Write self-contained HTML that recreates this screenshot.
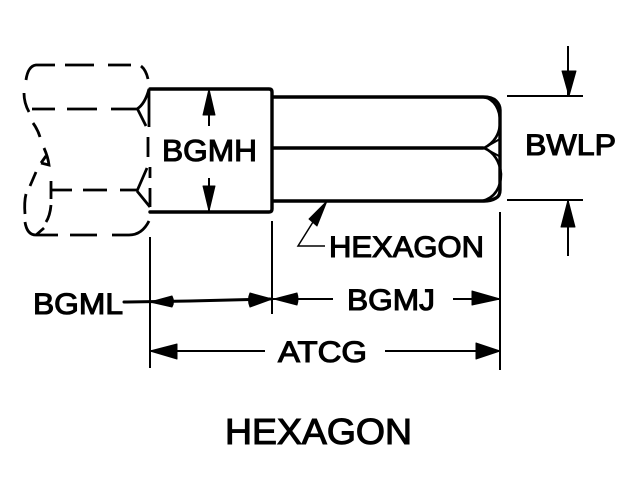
<!DOCTYPE html>
<html><head><meta charset="utf-8"><style>
html,body{margin:0;padding:0;background:#fff;width:634px;height:486px;overflow:hidden}
svg{display:block}
text{font-family:"Liberation Sans",sans-serif;fill:#000;stroke:#000;stroke-width:1.1}
.l{fill:none;stroke:#000;stroke-width:3.4;stroke-linejoin:round;stroke-linecap:round}
.m{fill:none;stroke:#000;stroke-width:2;stroke-linecap:butt}
.d{fill:none;stroke:#000;stroke-width:2.8;stroke-linecap:butt}
.a{fill:#000;stroke:#000;stroke-width:1;stroke-linejoin:round}
</style></head><body>
<svg width="634" height="486" viewBox="0 0 634 486" xmlns="http://www.w3.org/2000/svg">
<!-- head box -->
<path class="l" d="M150 89H269Q272 89 272 92V209Q272 212 269 212H150"/>
<!-- hex body -->
<path class="l" d="M273 97H483Q492 97 496 101Q500 105 500 110V190Q500 196 496 198Q491 201 484 201H273"/>
<path class="l" d="M273 148H483"/>
<path class="l" style="stroke-width:2.6" d="M483 97C495 99 500 110 500 122C500 134 494 143 484 148C494 152 500 162 501 174C501 187 495 198 482 201"/>
<path class="m" d="M484 148L500 139M484 148L499 156"/>
<!-- dashed left bolt -->
<g class="d">
<path d="M26 80Q28 66 36 65H55M65 65H94M108 65H131"/>
<path d="M141 66Q146 70 148 79"/>
<path d="M24 93Q24 103 29 112"/>
<path d="M32 109H55M67 109H97M111 109H137Q145 104 149 89"/>
<path d="M137 108L146 126"/>
<path d="M33 123Q38 130 40 137"/>
<path d="M44 148Q48 157 49 165L41 163M46 156L41 163"/>
<path d="M36 172L30 186"/>
<path d="M26 194Q24 202 25 214"/>
<path d="M51 181V199"/>
<path d="M52 190H72M83 190H107M120 190H137"/>
<path d="M51 205Q50 216 46 222"/>
<path d="M44 228L36 235"/>
<path d="M25 222Q27 235 36 235H58M70 235H97M112 235H129Q142 235 149 221"/>
<path d="M137 191L147 168M137 191L150 207"/>
<path d="M149 90V127M148 137V157M150 167V178M150 188V207"/>
</g>
<!-- vertical extension lines -->
<path class="m" d="M272 221V314M500 212V370M150 237V368"/>
<!-- BGMH arrows -->
<path class="m" d="M209 98V126M209 178V212"/>
<path class="a" d="M209 89L215 115H203Z"/>
<path class="a" d="M209 211L203 186H215Z"/>
<!-- BWLP extension -->
<path class="m" d="M507 96H583M507 200H583M568 46V96M568 200V256"/>
<path class="a" d="M569 96L562 71H576Z"/>
<path class="a" d="M568 200L561 227H575Z"/>
<!-- leader -->
<path class="m" d="M313 222L298 246H325" style="stroke-width:1.5"/>
<path class="a" d="M327 201L309 219L317 226Z"/>
<!-- dimension lines -->
<path class="l" style="stroke-width:3" d="M124 302L190 301L270 299"/>
<path class="m" d="M272 299H333M453 299H500M150 351H265M385 351H500"/>
<path class="a" d="M150 302L172 296Q175 302 172 307Z"/>
<path class="a" d="M272 299L250 293Q247 300 250 307Z"/>
<path class="a" d="M274 299L297 293Q299 299 297 305Z"/>
<path class="a" d="M500 299L472 291V305Z"/>
<path class="a" d="M150 351L177 344V359Z"/>
<path class="a" d="M500 351L476 343V359Z"/>
<!-- labels -->
<text x="162" y="161" font-size="30.5" textLength="95" lengthAdjust="spacingAndGlyphs">BGMH</text>
<text x="525" y="155" font-size="29.5" textLength="91" lengthAdjust="spacingAndGlyphs">BWLP</text>
<text x="329" y="257" font-size="29.5" textLength="155" lengthAdjust="spacingAndGlyphs">HEXAGON</text>
<text x="33" y="314" font-size="30" textLength="90" lengthAdjust="spacingAndGlyphs">BGML</text>
<text x="347" y="310" font-size="30" textLength="88" lengthAdjust="spacingAndGlyphs">BGMJ</text>
<text x="278" y="362" font-size="30" textLength="89" lengthAdjust="spacingAndGlyphs">ATCG</text>
<text x="225" y="444" font-size="36" textLength="187" lengthAdjust="spacingAndGlyphs">HEXAGON</text>
</svg>
</body></html>
